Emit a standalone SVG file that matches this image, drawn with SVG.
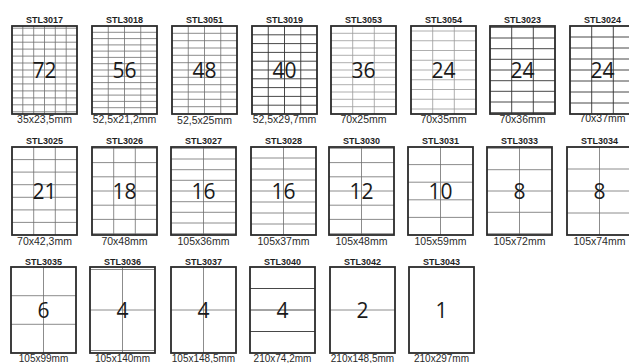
<svg xmlns="http://www.w3.org/2000/svg" width="629" height="363" viewBox="0 0 629 363">
<style>
.bx{fill:none;stroke:#2b2b2b;stroke-width:1.8}
.bg{fill:#fff}
.g{stroke:#6e6e6e;stroke-width:0.8;fill:none}
.gd{stroke:#333;stroke-width:0.9;fill:none}
.gl{stroke:#9a9a9a;stroke-width:0.8;fill:none}
.t{font-family:"Liberation Sans",Arial,sans-serif;font-weight:bold;font-size:9px;text-anchor:middle;fill:#1e1e1e}
.l{font-family:"Liberation Sans",Arial,sans-serif;font-size:10.5px;text-anchor:middle;fill:#2a2a2a}
.l3{font-family:"Liberation Sans",Arial,sans-serif;font-size:10px;text-anchor:middle;fill:#2a2a2a}
.n{font-family:"Open Sans","Liberation Sans",sans-serif;font-size:21px;text-anchor:middle;fill:#1a1a1a}
</style>
<rect width="629" height="363" fill="#fff"/>

<g id="stl3017" transform="translate(12,26)">
<text class="t" x="32.5" y="-3.5">STL3017</text>
<rect class="bg" width="65" height="88"/>
<path class="g" d="M0 2.2H65M0 9.2H65M0 16.2H65M0 23.1H65M0 30.1H65M0 37H65M0 44H65M0 51H65M0 57.9H65M0 64.9H65M0 71.9H65M0 78.8H65M0 85.8H65M10.8 0V88M21.7 0V88M32.5 0V88M43.3 0V88M54.2 0V88"/>
<rect class="bx" width="65" height="88"/>
<text class="n" x="32.5" y="51.5">72</text>
<text class="l" x="32.5" y="97">35x23,5mm</text>
</g>

<g id="stl3018" transform="translate(92,26)">
<text class="t" x="32.5" y="-3.5">STL3018</text>
<rect class="bg" width="65" height="88"/>
<path class="g" d="M0 6.3H65M0 12.6H65M0 18.9H65M0 25.1H65M0 31.4H65M0 37.7H65M0 44H65M0 50.3H65M0 56.6H65M0 62.9H65M0 69.1H65M0 75.4H65M0 81.7H65M16.25 0V88M32.5 0V88M48.75 0V88"/>
<rect class="bx" width="65" height="88"/>
<text class="n" x="32.5" y="51.5">56</text>
<text class="l" x="32.5" y="97">52,5x21,2mm</text>
</g>

<g id="stl3051" transform="translate(172,26)">
<text class="t" x="32.5" y="-3.5">STL3051</text>
<rect class="bg" width="65" height="88"/>
<path class="g" d="M0 7.3H65M0 14.7H65M0 22H65M0 29.3H65M0 36.7H65M0 44H65M0 51.3H65M0 58.7H65M0 66H65M0 73.3H65M0 80.7H65M16.25 0V88M32.5 0V88M48.75 0V88"/>
<rect class="bx" width="65" height="88"/>
<text class="n" x="32.5" y="51.5">48</text>
<text class="l" x="32.5" y="97.5">52,5x25mm</text>
</g>

<g id="stl3019" transform="translate(252,26)">
<text class="t" x="32.5" y="-3.5">STL3019</text>
<rect class="bg" width="65" height="88"/>
<path class="gd" d="M0 8.8H65M0 17.6H65M0 26.4H65M0 35.2H65M0 44H65M0 52.8H65M0 61.6H65M0 70.4H65M0 79.2H65M16.25 0V88M32.5 0V88M48.75 0V88"/>
<rect class="bx" width="65" height="88"/>
<text class="n" x="32.5" y="51.5">40</text>
<text class="l" x="32.5" y="97">52,5x29,7mm</text>
</g>

<g id="stl3053" transform="translate(331,26)">
<text class="t" x="32.5" y="-3.5">STL3053</text>
<rect class="bg" width="65" height="88"/>
<path class="gl" d="M0 7.3H65M0 14.7H65M0 22H65M0 29.3H65M0 36.7H65M0 44H65M0 51.3H65M0 58.7H65M0 66H65M0 73.3H65M0 80.7H65M21.7 0V88M43.3 0V88"/>
<rect class="bx" width="65" height="88"/>
<text class="n" x="32.5" y="51.5">36</text>
<text class="l" x="32.5" y="97">70x25mm</text>
</g>

<g id="stl3054" transform="translate(411,26)">
<text class="t" x="32.5" y="-3.5">STL3054</text>
<rect class="bg" width="65" height="88"/>
<path class="gl" d="M0 5H65M0 14.75H65M0 24.5H65M0 34.25H65M0 44H65M0 53.75H65M0 63.5H65M0 73.25H65M0 83H65M21.7 0V88M43.3 0V88"/>
<rect class="bx" width="65" height="88"/>
<text class="n" x="32.5" y="51.5">24</text>
<text class="l" x="32.5" y="97">70x35mm</text>
</g>

<g id="stl3023" transform="translate(490,26)">
<text class="t" x="32.5" y="-3.5">STL3023</text>
<rect class="bg" width="65" height="88"/>
<path class="gd" d="M0 1.3H65M0 12H65M0 22.7H65M0 33.3H65M0 44H65M0 54.7H65M0 65.3H65M0 76H65M0 86.7H65M21.7 0V88M43.3 0V88"/>
<rect class="bx" width="65" height="88"/>
<text class="n" x="32.5" y="51.5">24</text>
<text class="l" x="32.5" y="97">70x36mm</text>
</g>

<g id="stl3024" transform="translate(570,26)">
<text class="t" x="32.5" y="-3.5">STL3024</text>
<rect class="bg" width="65" height="88"/>
<path class="gd" d="M0 11H65M0 22H65M0 33H65M0 44H65M0 55H65M0 66H65M0 77H65M21.7 0V88M43.3 0V88"/>
<rect class="bx" width="65" height="88"/>
<text class="n" x="32.5" y="51.5">24</text>
<text class="l" x="32.5" y="96">70x37mm</text>
</g>

<g id="stl3025" transform="translate(12,147)">
<text class="t" x="32.5" y="-3">STL3025</text>
<rect class="bg" width="65" height="88"/>
<path class="g" d="M0 12.6H65M0 25.1H65M0 37.7H65M0 50.3H65M0 62.9H65M0 75.4H65M21.7 0V88M43.3 0V88"/>
<rect class="bx" width="65" height="88"/>
<text class="n" x="32.5" y="51.5">21</text>
<text class="l" x="32.5" y="98">70x42,3mm</text>
</g>

<g id="stl3026" transform="translate(92,147)">
<text class="t" x="32.5" y="-3">STL3026</text>
<rect class="bg" width="65" height="88"/>
<path class="g" d="M0 1.3H65M0 15.6H65M0 29.8H65M0 44H65M0 58.2H65M0 72.4H65M0 86.7H65M21.7 0V88M43.3 0V88"/>
<rect class="bx" width="65" height="88"/>
<text class="n" x="32.5" y="51.5">18</text>
<text class="l" x="32.5" y="98">70x48mm</text>
</g>

<g id="stl3027" transform="translate(171,147)">
<text class="t" x="32.5" y="-3">STL3027</text>
<rect class="bg" width="65" height="88"/>
<path class="g" d="M0 1.3H65M0 12H65M0 22.7H65M0 33.3H65M0 44H65M0 54.7H65M0 65.3H65M0 76H65M0 86.7H65M32.5 0V88"/>
<rect class="bx" width="65" height="88"/>
<text class="n" x="32.5" y="51.5">16</text>
<text class="l" x="32.5" y="98">105x36mm</text>
</g>

<g id="stl3028" transform="translate(251,147)">
<text class="t" x="32.5" y="-3">STL3028</text>
<rect class="bg" width="65" height="88"/>
<path class="g" d="M0 11H65M0 22H65M0 33H65M0 44H65M0 55H65M0 66H65M0 77H65M32.5 0V88"/>
<rect class="bx" width="65" height="88"/>
<text class="n" x="32.5" y="51.5">16</text>
<text class="l" x="32.5" y="98">105x37mm</text>
</g>

<g id="stl3030" transform="translate(329,147)">
<text class="t" x="32.5" y="-3">STL3030</text>
<rect class="bg" width="65" height="88"/>
<path class="g" d="M0 1.3H65M0 15.6H65M0 29.8H65M0 44H65M0 58.2H65M0 72.4H65M0 86.7H65M32.5 0V88"/>
<rect class="bx" width="65" height="88"/>
<text class="n" x="32.5" y="51.5">12</text>
<text class="l" x="32.5" y="98">105x48mm</text>
</g>

<g id="stl3031" transform="translate(408,147)">
<text class="t" x="32.5" y="-3">STL3031</text>
<rect class="bg" width="65" height="88"/>
<path class="g" d="M0 17.6H65M0 35.2H65M0 52.8H65M0 70.4H65M32.5 0V88"/>
<rect class="bx" width="65" height="88"/>
<text class="n" x="32.5" y="51.5">10</text>
<text class="l" x="32.5" y="98">105x59mm</text>
</g>

<g id="stl3033" transform="translate(487,147)">
<text class="t" x="32.5" y="-3">STL3033</text>
<rect class="bg" width="65" height="88"/>
<path class="g" d="M0 1.3H65M0 22.7H65M0 44H65M0 65.3H65M0 86.7H65M32.5 0V88"/>
<rect class="bx" width="65" height="88"/>
<text class="n" x="32.5" y="51.5">8</text>
<text class="l" x="32.5" y="98">105x72mm</text>
</g>

<g id="stl3034" transform="translate(567,147)">
<text class="t" x="32.5" y="-3">STL3034</text>
<rect class="bg" width="65" height="88"/>
<path class="g" d="M0 22H65M0 44H65M0 66H65M32.5 0V88"/>
<rect class="bx" width="65" height="88"/>
<text class="n" x="32.5" y="51.5">8</text>
<text class="l" x="32.5" y="98">105x74mm</text>
</g>

<g id="stl3035" transform="translate(11,267)">
<text class="t" x="32.5" y="-2.5">STL3035</text>
<rect class="bg" width="65" height="86"/>
<path class="g" d="M0 28.7H65M0 57.3H65M32.5 0V86"/>
<rect class="bx" width="65" height="86"/>
<text class="n" x="32.5" y="50.5">6</text>
<text class="l3" x="32.5" y="94.5">105x99mm</text>
</g>

<g id="stl3036" transform="translate(90,267)">
<text class="t" x="32.5" y="-2.5">STL3036</text>
<rect class="bg" width="65" height="86"/>
<path class="g" d="M0 2.5H65M0 43H65M0 83.5H65M32.5 0V86"/>
<rect class="bx" width="65" height="86"/>
<text class="n" x="32.5" y="50.5">4</text>
<text class="l3" x="32.5" y="94.5">105x140mm</text>
</g>

<g id="stl3037" transform="translate(171,267)">
<text class="t" x="32.5" y="-2.5">STL3037</text>
<rect class="bg" width="65" height="86"/>
<path class="g" d="M0 43H65M32.5 0V86"/>
<rect class="bx" width="65" height="86"/>
<text class="n" x="32.5" y="50.5">4</text>
<text class="l3" x="32.5" y="94.5">105x148,5mm</text>
</g>

<g id="stl3040" transform="translate(250,267)">
<text class="t" x="32.5" y="-2.5">STL3040</text>
<rect class="bg" width="65" height="86"/>
<path class="gd" d="M0 21.5H65M0 43H65M0 64.5H65"/>
<rect class="bx" width="65" height="86"/>
<text class="n" x="32.5" y="50.5">4</text>
<text class="l3" x="32.5" y="94.5">210x74,2mm</text>
</g>

<g id="stl3042" transform="translate(330,267)">
<text class="t" x="32.5" y="-2.5">STL3042</text>
<rect class="bg" width="65" height="86"/>
<path class="g" d="M0 43H65"/>
<rect class="bx" width="65" height="86"/>
<text class="n" x="32.5" y="50.5">2</text>
<text class="l3" x="32.5" y="94.5">210x148,5mm</text>
</g>

<g id="stl3043" transform="translate(409,267)">
<text class="t" x="32.5" y="-2.5">STL3043</text>
<rect class="bg" width="65" height="86"/>
<rect class="bx" width="65" height="86"/>
<text class="n" x="32.5" y="50.5">1</text>
<text class="l3" x="32.5" y="94.5">210x297mm</text>
</g>

<g id="connectors"/>
</svg>
